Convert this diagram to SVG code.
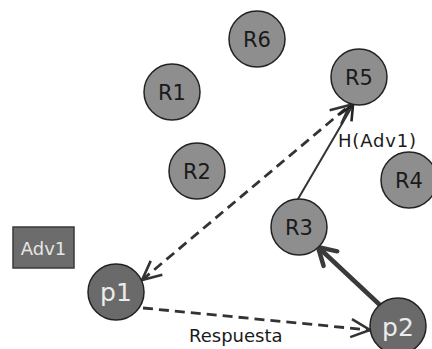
<svg xmlns="http://www.w3.org/2000/svg" width="432" height="349" viewBox="0 0 432 349">
  <style>
    .relay circle { fill: #8e8e8e; stroke: #222; stroke-width: 1.5; }
    .relay text { font-family: "DejaVu Sans", Verdana, sans-serif; font-size: 21px; fill: #1a1a1a; text-anchor: middle; }
    .peer circle { fill: #6a6a6a; stroke: #222; stroke-width: 1.5; }
    .peer text { font-family: "DejaVu Sans", Verdana, sans-serif; font-size: 25px; fill: #ececec; text-anchor: middle; }
    .adv rect { fill: #6c6c6c; stroke: #3a3a3a; stroke-width: 1.5; }
    .adv text { font-family: "DejaVu Sans", Verdana, sans-serif; font-size: 18px; fill: #e6e6e6; text-anchor: middle; }
    .label { font-family: "DejaVu Sans", Verdana, sans-serif; font-size: 18px; fill: #1a1a1a; }
    .link { fill: none; stroke: #333; }
    .dashed { stroke-width: 2.8; stroke-dasharray: 10 6; }
    .thin { stroke-width: 2; }
    .thick { stroke-width: 4.5; stroke: #3a3a3a; }
  </style>
  <defs>
    <marker id="chev" markerUnits="userSpaceOnUse" viewBox="-22 -12 26 24" refX="0" refY="0" markerWidth="26" markerHeight="24" orient="auto-start-reverse" overflow="visible">
      <path d="M-19,-9 L0,0 L-19,9" fill="none" stroke="#333" stroke-width="2.6" stroke-linejoin="miter"/>
    </marker>
    <marker id="chev-thin" markerUnits="userSpaceOnUse" viewBox="-22 -12 26 24" refX="0" refY="0" markerWidth="26" markerHeight="24" orient="auto" overflow="visible">
      <path d="M-15,-7 L0,0 L-15,7" fill="none" stroke="#222" stroke-width="2.6"/>
    </marker>
    <marker id="chev-thick" markerUnits="userSpaceOnUse" viewBox="-22 -12 26 24" refX="0" refY="0" markerWidth="26" markerHeight="24" orient="auto" overflow="visible">
      <path d="M-17,-10 L0,0 L-17,10" fill="none" stroke="#3a3a3a" stroke-width="4.5" stroke-linecap="round"/>
    </marker>
  </defs>

  <rect width="432" height="349" fill="#ffffff"/>

  <!-- connectors -->
  <g id="connectors">
    <line class="link dashed" x1="142" y1="280" x2="350" y2="105" marker-start="url(#chev)" marker-end="url(#chev)"/>
    <line class="link thin" x1="298" y1="199" x2="353" y2="105" marker-end="url(#chev-thin)"/>
    <line class="link thick" x1="381" y1="306" x2="318" y2="247" marker-end="url(#chev-thick)"/>
    <line class="link dashed" x1="143" y1="308" x2="370" y2="330" marker-end="url(#chev)"/>
    <text class="label" x="338" y="147" textLength="78" lengthAdjust="spacing">H(Adv1)</text>
    <text class="label" x="189" y="342">Respuesta</text>
  </g>

  <!-- relay nodes -->
  <g id="R6" class="relay"><circle cx="257" cy="39" r="28"/><text x="257" y="46.5">R6</text></g>
  <g id="R1" class="relay"><circle cx="172" cy="92" r="28"/><text x="172" y="99.5">R1</text></g>
  <g id="R5" class="relay"><circle cx="359" cy="77" r="28"/><text x="359" y="84.5">R5</text></g>
  <g id="R2" class="relay"><circle cx="197" cy="171" r="28"/><text x="197" y="178.5">R2</text></g>
  <g id="R4" class="relay"><circle cx="409" cy="180" r="28"/><text x="409" y="187.5">R4</text></g>
  <g id="R3" class="relay"><circle cx="299" cy="227" r="28"/><text x="299" y="234.5">R3</text></g>

  <!-- adversary -->
  <g id="Adv1" class="adv"><rect x="13" y="227" width="61" height="41"/><text x="43.5" y="255">Adv1</text></g>

  <!-- peers -->
  <g id="p1" class="peer"><circle cx="116" cy="292" r="28"/><text x="116" y="301">p1</text></g>
  <g id="p2" class="peer"><circle cx="398" cy="326" r="28"/><text x="398" y="336">p2</text></g>
</svg>
